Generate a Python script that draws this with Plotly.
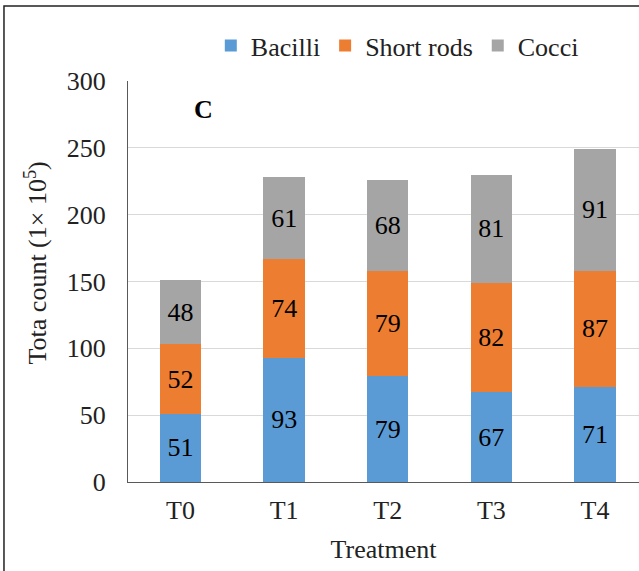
import plotly.graph_objects as go

categories = ["T0", "T1", "T2", "T3", "T4"]
bacilli = [51, 93, 79, 67, 71]
short_rods = [52, 74, 79, 82, 87]
cocci = [48, 61, 68, 81, 91]

FONT = "Liberation Serif, Times New Roman, serif"
FS = 26

fig = go.Figure()
for name, vals, color in [("Bacilli", bacilli, "#5B9BD5"),
                          ("Short rods", short_rods, "#ED7D31"),
                          ("Cocci", cocci, "#A5A5A5")]:
    fig.add_trace(go.Bar(
        x=categories, y=vals, name=name, marker_color=color,
        marker_line_width=0, width=0.4,
        text=[str(v) for v in vals], textposition="inside",
        insidetextanchor="middle", textangle=0,
        textfont=dict(family=FONT, size=FS, color="black"),
        constraintext="none",
    ))

fig.update_layout(
    barmode="stack",
    width=639, height=571,
    margin=dict(l=128, r=0, t=81, b=89),
    paper_bgcolor="white", plot_bgcolor="white",
    font=dict(family=FONT, size=FS, color="#222"),
    legend=dict(orientation="h", x=0.527, xanchor="center", y=1.0885, yanchor="middle",
                font=dict(size=FS, color="#222"), itemwidth=30,
                traceorder="normal", bgcolor="rgba(0,0,0,0)"),
    xaxis=dict(range=[-0.507, 4.425], showline=True, linecolor="#595959", linewidth=1,
               ticks="outside", ticklen=5, tickcolor="rgba(0,0,0,0)",
               title=dict(text="Treatment", font=dict(size=FS), standoff=15),
               tickfont=dict(size=FS, color="#222")),
    yaxis=dict(range=[0, 300], dtick=50, showline=True, linecolor="#595959", linewidth=1,
               showgrid=True, gridcolor="#d9d9d9", gridwidth=1, zeroline=False,
               ticks="outside", ticklen=16, tickcolor="rgba(0,0,0,0)",
               tickfont=dict(size=FS, color="#222")),
    showlegend=True,
)

fig.add_annotation(text="Tota count (1× 10<sup>5</sup>)", textangle=-90,
                   x=-0.18, y=0.545, xref="paper", yref="paper",
                   xanchor="center", yanchor="middle", showarrow=False,
                   font=dict(family=FONT, size=FS, color="#222"))

fig.add_annotation(text="<b>C</b>", x=0.1487, y=0.930, xref="paper", yref="paper",
                   xanchor="center", yanchor="middle",
                   showarrow=False, font=dict(family=FONT, size=FS, color="black"))

fig.add_shape(type="rect", xref="paper", yref="paper",
              x0=-0.2427, x1=1.05, y0=-0.4, y1=1.187,
              line=dict(color="#222", width=1.5), fillcolor="rgba(0,0,0,0)", layer="above")

fig.write_html("out.html")
